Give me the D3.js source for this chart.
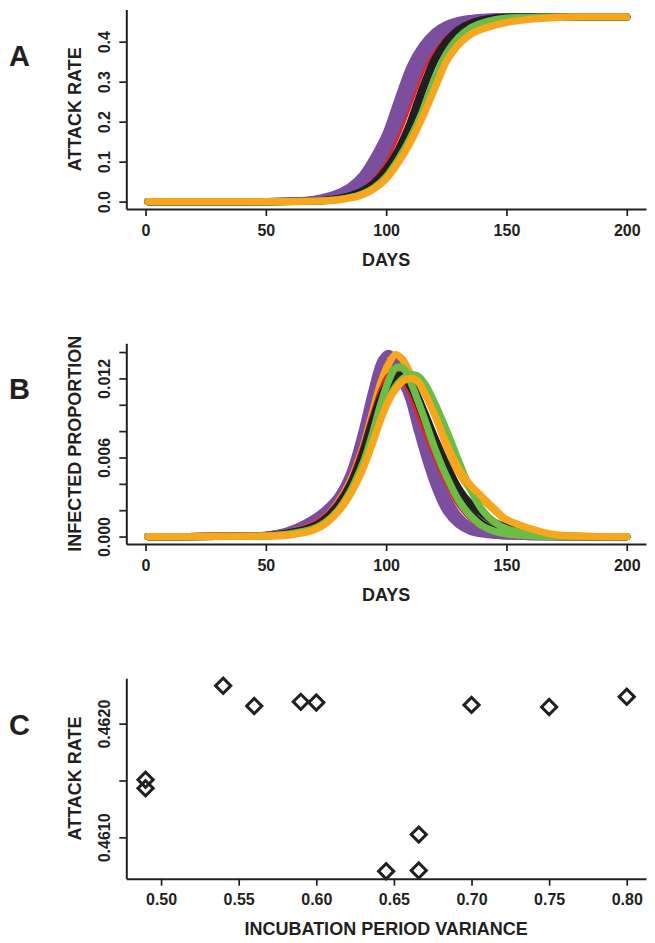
<!DOCTYPE html>
<html><head><meta charset="utf-8">
<script src="https://cdn.jsdelivr.net/npm/d3@7"></script>
<style>
body{margin:0;background:#fff}
svg{display:block}
text{font-family:"Liberation Sans",Arial,Helvetica,sans-serif;font-weight:bold;fill:#231f20}
</style></head>
<body><svg id="chart" width="655" height="943"></svg>
<script>
// ---------- Panel A: cumulative attack rate ----------
const daysA = [1,20,40,50,60,65,70,75,80,85,90,95,100,105,110,115,120,125,130,135,140,145,150,160,170,180,200];
const attackPurple1 = [0,0.00002,0.0001,0.0003,0.001,0.0025,0.006,0.012,0.022,0.038,0.066,0.113,0.171,0.257,0.338,0.39,0.424,0.443,0.453,0.458,0.461,0.462,0.462,0.462,0.462,0.462,0.462];
const attackPurple2 = [0,0.00002,0.0001,0.0002,0.0008,0.0019,0.0045,0.0096,0.018,0.031,0.055,0.094,0.148,0.223,0.306,0.369,0.41,0.436,0.449,0.456,0.46,0.461,0.462,0.462,0.462,0.462,0.462];
const attackPurple3 = [0,0.00001,0.0001,0.0002,0.0006,0.0015,0.0035,0.0078,0.015,0.026,0.046,0.077,0.125,0.194,0.273,0.348,0.396,0.428,0.445,0.454,0.459,0.461,0.462,0.462,0.462,0.462,0.462];
const attackRed     = [0,0.00001,0.0001,0.0002,0.0005,0.0013,0.003,0.0068,0.013,0.023,0.041,0.069,0.112,0.175,0.254,0.333,0.386,0.422,0.442,0.452,0.458,0.461,0.462,0.462,0.462,0.462,0.462];
const attackBlack1  = [0,0.00001,0.0001,0.0002,0.0004,0.0008,0.0015,0.0036,0.0078,0.015,0.027,0.047,0.081,0.13,0.198,0.283,0.355,0.401,0.43,0.446,0.455,0.459,0.461,0.462,0.462,0.462,0.462];
const attackBlack2  = [0,0.00001,0.0001,0.0001,0.0003,0.0007,0.0014,0.0033,0.0072,0.014,0.025,0.044,0.077,0.124,0.19,0.275,0.35,0.397,0.428,0.445,0.454,0.459,0.461,0.462,0.462,0.462,0.462];
const attackGreen   = [0,0.00001,0.00005,0.0001,0.0002,0.0005,0.0012,0.0025,0.005,0.01,0.019,0.035,0.062,0.105,0.158,0.224,0.305,0.37,0.41,0.434,0.447,0.455,0.459,0.461,0.462,0.462,0.462];
const attackOrange  = [0,0.00001,0.00005,0.0001,0.0002,0.0005,0.001,0.0022,0.0045,0.009,0.017,0.032,0.057,0.097,0.148,0.21,0.28,0.35,0.392,0.418,0.432,0.441,0.448,0.456,0.46,0.462,0.462];

// ---------- Panel B: infected proportion ----------
const daysB = [1,30,50,60,70,75,80,85,90,94,98,101,104,107,110,113,116,120,125,130,135,140,145,150,160,170,185,200];
const infPurple1 = [0,0.00002,0.0001,0.0005,0.0014,0.0021,0.0031,0.0049,0.008,0.011,0.0134,0.0139,0.0134,0.012,0.0101,0.008,0.0061,0.0039,0.0019,0.0009,0.0004,0.0002,0.0001,0.00005,0,0,0,0];
const infPurple3 = [0,0.00002,0.0001,0.0004,0.0013,0.002,0.003,0.0047,0.0077,0.0105,0.0127,0.0133,0.013,0.0118,0.0102,0.0084,0.0067,0.0046,0.0025,0.0012,0.0006,0.0003,0.0001,0.00005,0,0,0,0];
const infPurple2 = [0,0.00002,0.0001,0.0004,0.0012,0.0019,0.0029,0.0045,0.0074,0.0099,0.0119,0.01265,0.0124,0.0115,0.0102,0.0087,0.0072,0.0052,0.0031,0.0016,0.0008,0.0004,0.0002,0.0001,0.00002,0,0,0];
const infOrange1 = [0,0.00001,0.00008,0.0003,0.0009,0.0015,0.0026,0.0042,0.0066,0.0092,0.0118,0.0131,0.0138,0.0134,0.0124,0.0117,0.0109,0.0095,0.0069,0.0049,0.0036,0.0028,0.002,0.0012,0.0005,0.0001,0,0];
const infRed     = [0,0.00001,0.00008,0.0003,0.0009,0.0015,0.0025,0.004,0.0064,0.0088,0.011,0.0121,0.0124,0.012,0.011,0.0096,0.0082,0.0064,0.0043,0.0026,0.0015,0.0008,0.0004,0.0002,0.00005,0,0,0];
const infBlack1  = [0,0.00001,0.00008,0.0003,0.0008,0.0014,0.0024,0.0039,0.0062,0.0086,0.0107,0.0117,0.0122,0.0121,0.0114,0.0102,0.0088,0.0069,0.0047,0.003,0.0018,0.001,0.0005,0.0003,0.0001,0.00002,0,0];
const infBlack2  = [0,0.00001,0.00006,0.0002,0.0007,0.0012,0.002,0.0034,0.0056,0.0079,0.0101,0.0113,0.0119,0.0121,0.0117,0.0107,0.0094,0.0076,0.0055,0.0037,0.0025,0.0017,0.0011,0.0007,0.0002,0.00005,0,0];
const infGreen1  = [0,0.00001,0.00005,0.0002,0.0006,0.0011,0.0019,0.0032,0.0053,0.0076,0.0102,0.0118,0.0128,0.0128,0.0118,0.0104,0.0089,0.0068,0.0046,0.0028,0.0016,0.0008,0.0004,0.0002,0.00005,0,0,0];
const infGreen2  = [0,0.00001,0.00005,0.00015,0.0006,0.0011,0.002,0.0034,0.0054,0.0073,0.0093,0.0105,0.0114,0.012,0.01227,0.0122,0.0116,0.0102,0.0081,0.0058,0.0036,0.002,0.0011,0.0006,0.0002,0.00005,0,0];
const infOrange2 = [0,0.00001,0.00004,0.00012,0.0005,0.001,0.0019,0.0032,0.005,0.0069,0.009,0.0103,0.0112,0.0118,0.012,0.0118,0.0109,0.0093,0.0071,0.0052,0.0039,0.003,0.0021,0.0013,0.0006,0.00015,0.00002,0];

// ---------- Panel C: attack rate vs incubation period variance ----------
const variance   = [0.49,0.49,0.54,0.56,0.59,0.60,0.645,0.666,0.666,0.70,0.75,0.80];
const attackRateC = [0.461506,0.461432,0.462334,0.462156,0.462192,0.462186,0.460701,0.460708,0.461024,0.462165,0.462147,0.462236];

// ---------- Ticks ----------
const xTicksDays = [0,50,100,150,200];
const xLabelsDays = ["0","50","100","150","200"];
const yTicksA = [0,0.1,0.2,0.3,0.4];
const yLabelsA = ["0.0","0.1","0.2","0.3","0.4"];
const yTicksB = [0,0.002,0.004,0.006,0.008,0.010,0.012,0.014];
const yLabelsB = ["0.000","","","0.006","","","0.012",""];
const xTicksC = [0.50,0.55,0.60,0.65,0.70,0.75,0.80];
const xLabelsC = ["0.50","0.55","0.60","0.65","0.70","0.75","0.80"];
const yTicksC = [0.4610,0.4615,0.4620];
const yLabelsC = ["0.4610","","0.4620"];

// ---------- Colours ----------
const PURPLE="#7b4f9e", RED="#e3252b", BLACK="#231f20", GREEN="#6bbd45", ORANGE="#f8a61c";
const INK="#231f20";

const seriesA = [
  {c:RED, v:attackRed},
  {c:PURPLE, v:attackPurple1},{c:PURPLE, v:attackPurple2},{c:PURPLE, v:attackPurple3},
  {c:BLACK, v:attackBlack1},{c:BLACK, v:attackBlack2},
  {c:GREEN, v:attackGreen},
  {c:ORANGE, v:attackOrange}
];
const seriesB = [
  {c:PURPLE, v:infPurple1},{c:PURPLE, v:infPurple3},{c:PURPLE, v:infPurple2},
  {c:ORANGE, v:infOrange1},
  {c:RED, v:infRed},
  {c:BLACK, v:infBlack1},{c:BLACK, v:infBlack2},
  {c:GREEN, v:infGreen1},{c:GREEN, v:infGreen2},
  {c:ORANGE, v:infOrange2}
];

const svg = d3.select("#chart");
const L = 126.3, R = 646;
const LW = 7.2;

function drawAxes(x, y, top, bottom, xt, xl, yt, yl, xTitle, yTitle, letter, letterY){
  const gx = svg.append("g").attr("transform",`translate(0,${bottom})`)
    .call(d3.axisBottom(x).tickValues(xt).tickFormat((d,i)=>xl[i]).tickSize(7).tickSizeOuter(0).tickPadding(8.3));
  const gy = svg.append("g").attr("transform",`translate(${L},0)`)
    .call(d3.axisLeft(y).tickValues(yt).tickFormat((d,i)=>yl[i]).tickSize(7).tickSizeOuter(0));
  [gx,gy].forEach(g=>{
    g.select(".domain").attr("stroke",INK).attr("stroke-width",2);
    g.selectAll(".tick line").attr("stroke",INK).attr("stroke-width",1.7);
    g.selectAll(".tick text").attr("fill",INK).style("font-size","16px")
      .style("font-family",'"Liberation Sans",Arial,sans-serif').style("font-weight","bold");
  });
  gy.selectAll(".tick text").attr("transform","rotate(-90)").attr("x",0).attr("y",-16.3)
    .attr("dy",0).attr("text-anchor","middle");
  svg.append("text").attr("x",(L+R)/2).attr("y",bottom+56.5).attr("text-anchor","middle")
    .style("font-size","18px").text(xTitle);
  svg.append("text").attr("transform",`translate(81,${(top+bottom)/2}) rotate(-90)`)
    .attr("text-anchor","middle").style("font-size","18px").text(yTitle);
  svg.append("text").attr("x",19.5).attr("y",letterY).attr("text-anchor","middle")
    .style("font-size","29px").text(letter);
}

// Panel A
{
  const top=9.5, bottom=209;
  const x = d3.scaleLinear().domain([-8,208]).range([L,R]);
  const y = d3.scaleLinear().domain([-0.01848,0.48048]).range([bottom,top]);
  const line = d3.line().x((d,i)=>x(daysA[i])).y(d=>y(d)).curve(d3.curveMonotoneX);
  svg.append("g").selectAll("path").data(seriesA).join("path")
    .attr("d",s=>line(s.v)).attr("fill","none").attr("stroke",s=>s.c)
    .attr("stroke-width",LW).attr("stroke-linecap","round").attr("stroke-linejoin","round");
  drawAxes(x,y,top,bottom,xTicksDays,xLabelsDays,yTicksA,yLabelsA,"DAYS","ATTACK RATE","A",66);
}
// Panel B
{
  const top=343.3, bottom=544;
  const x = d3.scaleLinear().domain([-8,208]).range([L,R]);
  const y = d3.scaleLinear().domain([-0.000564,0.014664]).range([bottom,top]);
  const line = d3.line().x((d,i)=>x(daysB[i])).y(d=>y(d)).curve(d3.curveCatmullRom.alpha(0.5));
  svg.append("g").selectAll("path").data(seriesB).join("path")
    .attr("d",s=>line(s.v)).attr("fill","none").attr("stroke",s=>s.c)
    .attr("stroke-width",LW).attr("stroke-linecap","round").attr("stroke-linejoin","round");
  drawAxes(x,y,top,bottom,xTicksDays,xLabelsDays,yTicksB,yLabelsB,"DAYS","INFECTED PROPORTION","B",399);
}
// Panel C
{
  const top=678.3, bottom=878.7;
  const x = d3.scaleLinear().domain([0.4776,0.8124]).range([L,R]);
  const y = d3.scaleLinear().domain([0.460636,0.462399]).range([bottom,top]);
  const sym = d3.symbol().type(d3.symbolSquare).size(115);
  svg.append("g").selectAll("path").data(variance).join("path")
    .attr("d",sym())
    .attr("transform",(d,i)=>`translate(${x(d)},${y(attackRateC[i])}) rotate(45)`)
    .attr("fill","none").attr("stroke",INK).attr("stroke-width",3);
  drawAxes(x,y,top,bottom,xTicksC,xLabelsC,yTicksC,yLabelsC,"INCUBATION PERIOD VARIANCE","ATTACK RATE","C",735);
}
</script></body></html>
